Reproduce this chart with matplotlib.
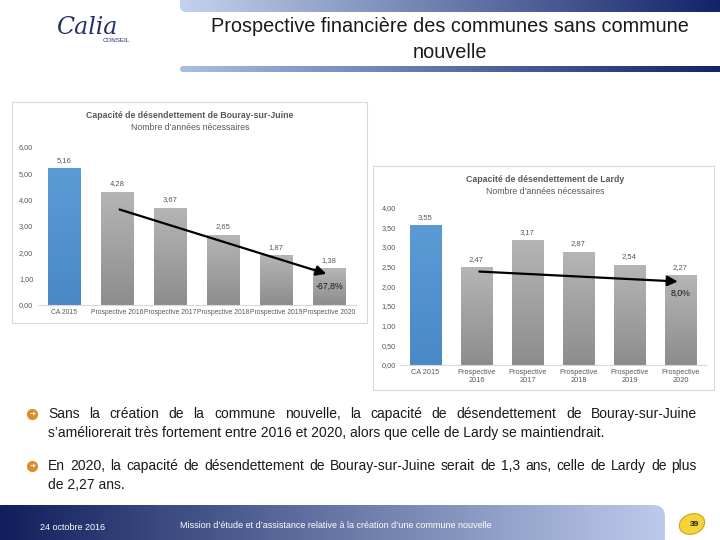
import numpy as np
import matplotlib
matplotlib.use('Agg')
import matplotlib.pyplot as plt
from matplotlib.patches import FancyBboxPatch, Rectangle, Ellipse

categories_b = ['CA 2015', 'Prospective 2016', 'Prospective 2017', 'Prospective 2018',
                'Prospective 2019', 'Prospective 2020']
values_b = [5.16, 4.28, 3.67, 2.65, 1.87, 1.38]
labels_b = ['5,16', '4,28', '3,67', '2,65', '1,87', '1,38']

categories_l = ['CA 2015', 'Prospective\n2016', 'Prospective\n2017', 'Prospective\n2018',
                'Prospective\n2019', 'Prospective\n2020']
values_l = [3.55, 2.47, 3.17, 2.87, 2.54, 2.27]
labels_l = ['3,55', '2,47', '3,17', '2,87', '2,54', '2,27']

ticks_b = [0, 1, 2, 3, 4, 5, 6]
ticks_l = [0, 0.5, 1, 1.5, 2, 2.5, 3, 3.5, 4]

W, H = 720, 540
fig = plt.figure(figsize=(7.2, 5.4), dpi=100)
plt.rcParams['font.family'] = ['Liberation Sans', 'DejaVu Sans']
TXT = '#595959'


def px_axes(x0, y0, x1, y1, **kw):
    # boite en pixels (origine en haut a gauche)
    return fig.add_axes([x0 / W, 1 - y1 / H, (x1 - x0) / W, (y1 - y0) / H], **kw)


def gradient_h(ax, extent, c0, c1, n=256):
    c0 = np.array(matplotlib.colors.to_rgb(c0))
    c1 = np.array(matplotlib.colors.to_rgb(c1))
    t = np.linspace(0, 1, n)[None, :, None]
    img = c0 + (c1 - c0) * t
    return ax.imshow(img, extent=extent, aspect='auto', zorder=1, interpolation='bilinear')


def gradient_v(ax, extent, c_top, c_bot, n=64):
    c0 = np.array(matplotlib.colors.to_rgb(c_top))
    c1 = np.array(matplotlib.colors.to_rgb(c_bot))
    t = np.linspace(0, 1, n)[:, None, None]
    img = c0 + (c1 - c0) * t
    return ax.imshow(img, extent=extent, aspect='auto', zorder=2, interpolation='bilinear')


# fond de la diapo
bg = px_axes(0, 0, W, H)
bg.set_xlim(0, W)
bg.set_ylim(H, 0)
bg.axis('off')
renderer = fig.canvas.get_renderer()


def justify(y, line, x0, x1, **kw):
    # texte justifie mot par mot entre x0 et x1
    words = line.split(' ')
    objs = [bg.text(0, y, w, ha='left', va='center', **kw) for w in words]
    widths = [o.get_window_extent(renderer).width for o in objs]
    gap = (x1 - x0 - sum(widths)) / (len(words) - 1)
    x = x0
    for o, w in zip(objs, widths):
        o.set_x(x)
        x += w + gap


# bandeau du haut
top = FancyBboxPatch((180, -10), 560, 22, boxstyle='round,pad=0,rounding_size=6',
                     transform=bg.transData, facecolor='none', edgecolor='none')
bg.add_patch(top)
im = gradient_h(bg, (180, 720, 12, -10), '#c3d3ee', '#12236a')
im.set_clip_path(top)
bot_line = FancyBboxPatch((180, 66), 560, 6, boxstyle='round,pad=0,rounding_size=3',
                          transform=bg.transData, facecolor='none', edgecolor='none')
bg.add_patch(bot_line)
im = gradient_h(bg, (180, 720, 72, 66), '#a9bde4', '#12236a')
im.set_clip_path(bot_line)

bg.text(450, 27, 'Prospective financière des communes sans commune', fontsize=14.3,
        ha='center', va='center', color='#1a1a1a')
bg.text(450, 53, 'nouvelle', fontsize=14.3, ha='center', va='center', color='#1a1a1a')

# logo
bg.text(56, 27, 'Calia', fontsize=17, style='italic', color='#22306b', ha='left', va='center',
        family='DejaVu Serif')
bg.text(130, 41, 'CONSEIL', fontsize=4.5, color='#22306b', ha='right', va='center')

# bandeau du bas
foot = FancyBboxPatch((-10, 505), 675, 45, boxstyle='round,pad=0,rounding_size=12',
                      transform=bg.transData, facecolor='none', edgecolor='none')
bg.add_patch(foot)
im = gradient_h(bg, (-10, 665, 550, 505), '#0e1d5a', '#bccbeb')
im.set_clip_path(foot)
bg.text(40, 527, '24 octobre 2016', fontsize=6.5, color='white', ha='left', va='center')
bg.text(180, 526, 'Mission d\u2019étude et d\u2019assistance relative à la création d\u2019une commune nouvelle',
        fontsize=6.5, color='white', ha='left', va='center')
bg.add_patch(Ellipse((692, 524), 26, 20, angle=-20, facecolor='#f2d43a', edgecolor='#c9a81e', lw=0.8, zorder=3))
bg.text(694, 524, '39', fontsize=6, fontweight='bold', color='#1a1a1a', ha='center', va='center', zorder=4)

# textes
bul = '#e08a2a'
for y in (414, 466):
    bg.plot(32, y, 'o', ms=7, color=bul, mec=bul, zorder=3)
    bg.text(32.3, y, '\u279c', fontsize=5, color='white', ha='center', va='center',
            family='DejaVu Sans', zorder=4)
body = dict(fontsize=10, color='#1a1a1a')
justify(414, 'Sans la création de la commune nouvelle, la capacité de désendettement de Bouray-sur-Juine',
        48, 697, **body)
bg.text(48, 433, 's\u2019améliorerait très fortement entre 2016 et 2020, alors que celle de Lardy se maintiendrait.',
        ha='left', va='center', **body)
justify(466, 'En 2020, la capacité de désendettement de Bouray-sur-Juine serait de 1,3 ans, celle de Lardy de plus',
        48, 697, **body)
bg.text(48, 485, 'de 2,27 ans.', ha='left', va='center', **body)

# cadres des graphiques
bg.add_patch(Rectangle((12, 102), 355, 221, facecolor='white', edgecolor='#d9d9d9', lw=0.8, zorder=0.5))
bg.add_patch(Rectangle((373, 166), 341, 224, facecolor='white', edgecolor='#d9d9d9', lw=0.8, zorder=0.5))
bg.text(190, 115, 'Capacité de désendettement de Bouray-sur-Juine', fontsize=6.3, fontweight='bold',
        color=TXT, ha='center', va='center')
bg.text(190, 128, 'Nombre d\u2019années nécessaires', fontsize=6.3, color=TXT, ha='center', va='center')
bg.text(545, 179, 'Capacité de désendettement de Lardy', fontsize=6.3, fontweight='bold',
        color=TXT, ha='center', va='center')
bg.text(545, 191, 'Nombre d\u2019années nécessaires', fontsize=6.3, color=TXT, ha='center', va='center')


def draw_bars(ax, cats, vals, labs, ticks, ymax, width, catsize):
    x = np.arange(len(vals))
    ax.set_xlim(-0.5, len(vals) - 0.5)
    ax.set_ylim(0, ymax)
    for i, v in enumerate(vals):
        if i == 0:
            gradient_v(ax, (i - width / 2, i + width / 2, 0, v), '#5b9bd5', '#4a88c8')
        else:
            gradient_v(ax, (i - width / 2, i + width / 2, 0, v), '#b5b5b5', '#8d8d8d')
        ax.text(i, v + ymax * 0.03, labs[i], fontsize=5.5, color=TXT, ha='center', va='bottom')
    ax.set_xticks(x)
    ax.set_xticklabels(cats, fontsize=catsize, color=TXT)
    ax.set_yticks(ticks)
    ax.set_yticklabels([('%.2f' % t).replace('.', ',') for t in ticks], fontsize=5.3, color=TXT)
    ax.tick_params(length=0, pad=3)
    for s in ('top', 'right', 'left'):
        ax.spines[s].set_visible(False)
    ax.spines['bottom'].set_color('#d9d9d9')
    ax.patch.set_alpha(0)


ax1 = px_axes(37.5, 146.7, 355.5, 305)
draw_bars(ax1, categories_b, values_b, labels_b, ticks_b, 6, 0.62, 4.9)
ax1.annotate('', xy=(5, 1.15), xytext=(1, 3.65),
             arrowprops=dict(arrowstyle='-|>,head_length=0.6,head_width=0.3', color='black', lw=1.6), zorder=5)
ax1.text(5, 0.7, '-67,8%', fontsize=6.3, color='#1a1a1a', ha='center', va='center', zorder=5)

ax2 = px_axes(400, 207.7, 706, 365)
draw_bars(ax2, categories_l, values_l, labels_l, ticks_l, 4, 0.61, 5.3)
ax2.annotate('', xy=(5, 2.12), xytext=(1, 2.38),
             arrowprops=dict(arrowstyle='-|>,head_length=0.6,head_width=0.3', color='black', lw=1.6), zorder=5)
ax2.text(5, 1.83, '8,0%', fontsize=6.3, color='#1a1a1a', ha='center', va='center', zorder=5)

fig.savefig('out.png', dpi=100)
